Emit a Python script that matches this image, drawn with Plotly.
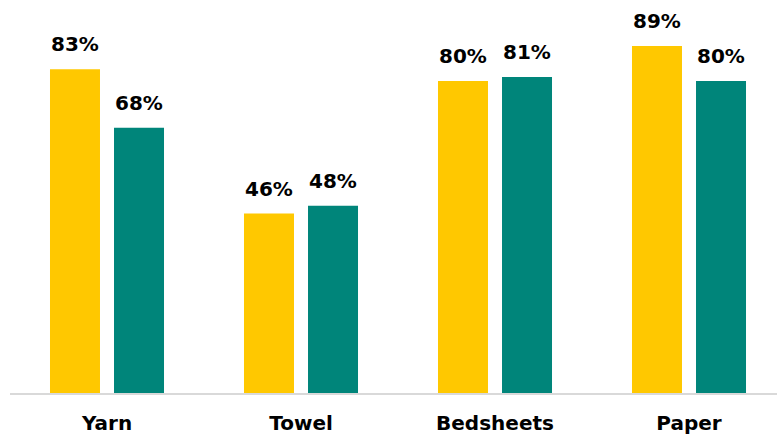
import plotly.graph_objects as go

categories = ["Yarn", "Towel", "Bedsheets", "Paper"]
series_a = [83, 46, 80, 89]   # yellow
series_b = [68, 48, 81, 80]   # teal
label_a = [f"{v}%" for v in series_a]
label_b = [f"{v}%" for v in series_b]

YELLOW = "#FFC800"
TEAL = "#00857A"
FONT = "DejaVu Sans"

fig = go.Figure()
fig.add_trace(go.Bar(x=categories, y=series_a, marker_color=YELLOW, marker_line_width=0, name="A"))
fig.add_trace(go.Bar(x=categories, y=series_b, marker_color=TEAL, marker_line_width=0, name="B"))

for cat, v, t in zip(categories, series_a, label_a):
    fig.add_annotation(x=cat, y=v, text=f"<b>{t}</b>", showarrow=False, xref="x", yref="y",
                       yanchor="bottom", xanchor="center", xshift=-32, yshift=11,
                       font=dict(family=FONT, size=20, color="#000000"))
for cat, v, t in zip(categories, series_b, label_b):
    fig.add_annotation(x=cat, y=v, text=f"<b>{t}</b>", showarrow=False, xref="x", yref="y",
                       yanchor="bottom", xanchor="center", xshift=32, yshift=11,
                       font=dict(family=FONT, size=20, color="#000000"))

fig.update_layout(
    width=777, height=437,
    margin=dict(l=10, r=0, t=3, b=44),
    barmode="group", bargap=0.34, bargroupgap=0.219,
    showlegend=False,
    plot_bgcolor="white", paper_bgcolor="white",
    xaxis=dict(range=[-0.5, 3.4536], showline=True, linecolor="#D9D9D9", linewidth=2,
               showgrid=False, zeroline=False, ticks="",
               tickfont=dict(family=FONT, size=20, color="#000000", weight="bold"),
               ticklabelstandoff=11),
    yaxis=dict(range=[0, 100], visible=False, showgrid=False, zeroline=False),
)

fig.write_html("out.html", config={"displayModeBar": False},
               post_script="document.body.style.margin='0';document.body.style.overflow='hidden';")
